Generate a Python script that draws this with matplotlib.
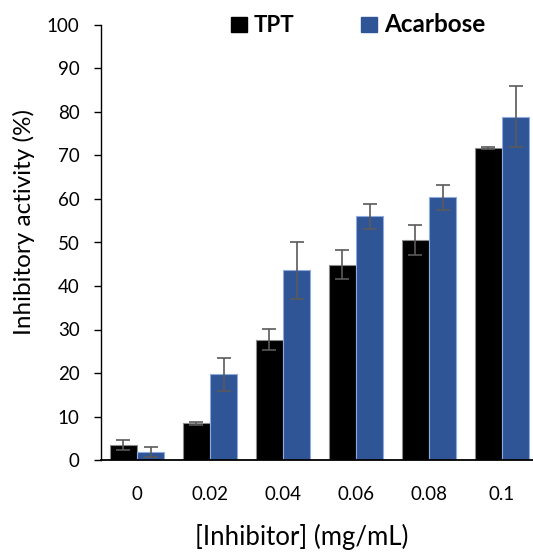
import matplotlib
matplotlib.use("Agg")
import matplotlib.pyplot as plt
import numpy as np
from matplotlib.patches import Rectangle

plt.rcParams['font.family'] = ['Lato', 'DejaVu Sans']

# data
concentrations = ["0", "0.02", "0.04", "0.06", "0.08", "0.1"]
tpt = [3.4, 8.4, 27.7, 44.9, 50.6, 71.7]
tpt_err = [1.1, 0.45, 2.4, 3.4, 3.5, 0.3]
acarbose = [1.8, 19.7, 43.6, 56.0, 60.4, 78.9]
acarbose_err = [1.1, 3.8, 6.6, 2.9, 2.9, 7.0]

W, H = 533, 553
fig = plt.figure(figsize=(W / 100, H / 100), dpi=100)
# axes runs off the right edge like the cropped original
ax = fig.add_axes([100.5 / W, 93 / H, 438 / W, 435 / H])

x = np.arange(len(concentrations))
bw = 0.37
err_kw = dict(ecolor='#5a5a5a', elinewidth=1.2, capsize=5, capthick=1.2)

ax.bar(x - bw / 2, tpt, bw, color='black', edgecolor='#8c8c8c', linewidth=0.8,
       yerr=tpt_err, error_kw=err_kw, label='TPT')
ax.bar(x + bw / 2, acarbose, bw, color='#2f5597', edgecolor='#8faadc', linewidth=0.8,
       yerr=acarbose_err, error_kw=err_kw, label='Acarbose')

ax.set_xlim(-0.5, len(concentrations) - 0.5)
ax.set_ylim(0, 100)
ax.set_yticks(range(0, 101, 10))
ax.set_xticks(x)
ax.set_xticklabels(concentrations)

for side in ['top', 'right']:
    ax.spines[side].set_visible(False)
ax.spines['left'].set_linewidth(1.0)
ax.spines['bottom'].set_linewidth(1.3)
ax.tick_params(axis='y', direction='out', length=5, width=1, pad=10, labelsize=13.5)
ax.tick_params(axis='x', length=0, pad=19, labelsize=13.5)

fig.text(24 / W, 1 - 222 / H, 'Inhibitory activity (%)', rotation=90,
         ha='center', va='center', fontsize=17.5)
fig.text(302 / W, 1 - 550 / H, '[Inhibitor] (mg/mL)', ha='center', va='bottom',
         fontsize=18.5)

# legend drawn by hand in figure coords
for (x0, col, name, tx, fs) in [(231, 'black', 'TPT', 254, 16),
                                (361, '#2f5597', 'Acarbose', 384, 17.5)]:
    fig.patches.append(Rectangle((x0 / W, 1 - 32 / H), 16 / W, 15 / H, color=col,
                                 transform=fig.transFigure, figure=fig))
    fig.text(tx / W, 1 - 32 / H, name, ha='left', va='baseline', fontsize=fs,
             fontweight='bold')

fig.savefig('out.png', dpi=100)
